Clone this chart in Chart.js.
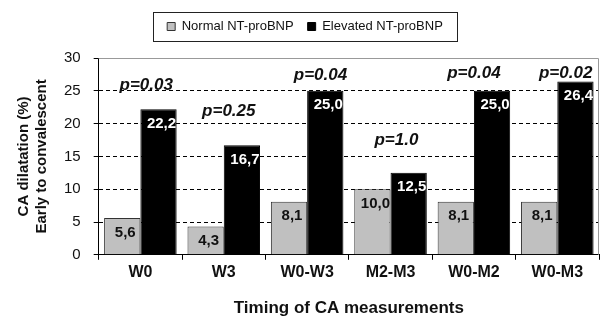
<!DOCTYPE html>
<html>
<head>
<meta charset="utf-8">
<script src="https://cdn.jsdelivr.net/npm/chart.js@4"></script>
<style>
  html, body { margin: 0; padding: 0; background: #fff; }
  #wrap { width: 605px; height: 317px; }
</style>
</head>
<body>
<div id="wrap"><canvas id="chart" width="605" height="317"></canvas></div>
<script>
const categories = ['W0', 'W3', 'W0-W3', 'M2-M3', 'W0-M2', 'W0-M3'];
const normalValues = [5.6, 4.3, 8.1, 10.0, 8.1, 8.1];
const elevatedValues = [22.2, 16.7, 25.0, 12.5, 25.0, 26.4];
const pLabels = ['p=0.03', 'p=0.25', 'p=0.04', 'p=1.0', 'p=0.04', 'p=0.02'];
// where each p label sits: value level and shift along the category axis
const pLevels = [25.9, 21.9, 27.4, 17.4, 27.7, 27.7];
const pShift = [0.07, 0.06, 0.16, 0.07, 0, 0.1];
const yTicks = [0, 5, 10, 15, 20, 25, 30];

const FONT = '"Liberation Sans", Arial, sans-serif';

// extra room below the legend
const legendMargin = {
    id: 'legendMargin',
    beforeInit(chart) {
        if (!chart.legend) return;
        const fit = chart.legend.fit;
        chart.legend.fit = function () {
            fit.call(this);
            this.height += 15;
        };
    }
};

const frameAndLabels = {
    id: 'frameAndLabels',
    afterDraw(chart) {
        const ctx = chart.ctx;
        const area = chart.chartArea;
        const x = chart.scales.x;
        const y = chart.scales.y;
        ctx.save();
        // grey frame on top and right of the plot
        ctx.strokeStyle = '#999';
        ctx.lineWidth = 1;
        ctx.beginPath();
        ctx.moveTo(area.left, area.top + 0.5);
        ctx.lineTo(area.right - 0.5, area.top + 0.5);
        ctx.lineTo(area.right - 0.5, area.bottom);
        ctx.stroke();

        // value labels inside the bars
        ctx.font = 'bold 15px ' + FONT;
        ctx.textAlign = 'center';
        ctx.textBaseline = 'top';
        chart.data.datasets.forEach((ds, i) => {
            const meta = chart.getDatasetMeta(i);
            meta.data.forEach((bar, j) => {
                ctx.fillStyle = i === 0 ? '#111' : '#fff';
                ctx.fillText(ds.data[j].toFixed(1).replace('.', ','), bar.x + 3, bar.y + 7);
            });
        });

        // p-values above each pair
        ctx.font = 'bold italic 17px ' + FONT;
        ctx.fillStyle = '#111';
        ctx.textBaseline = 'middle';
        pLabels.forEach((p, j) => {
            ctx.fillText(p, x.getPixelForValue(j + pShift[j]), y.getPixelForValue(pLevels[j]));
        });

        // box around the legend
        const boxes = chart.legend.legendHitBoxes;
        if (boxes && boxes.length) {
            const l = Math.min(...boxes.map(b => b.left)) - 14;
            const r = Math.max(...boxes.map(b => b.left + b.width)) + 14;
            const t = boxes[0].top - 8;
            const h = boxes[0].height + 16;
            ctx.strokeStyle = '#222';
            ctx.strokeRect(Math.round(l) + 0.5, Math.round(t) + 0.5, Math.round(r - l), Math.round(h));
        }
        ctx.restore();
    }
};

new Chart(document.getElementById('chart'), {
    type: 'bar',
    data: {
        labels: categories,
        datasets: [
            { label: 'Normal NT-proBNP', data: normalValues, backgroundColor: '#c0c0c0', borderColor: '#333', borderWidth: 1 },
            { label: 'Elevated NT-proBNP', data: elevatedValues, backgroundColor: '#000', borderColor: '#000', borderWidth: 1 }
        ]
    },
    options: {
        responsive: false,
        animation: false,
        layout: { padding: { top: 6, right: 6, left: 11, bottom: 0 } },
        plugins: {
            tooltip: { enabled: false },
            legend: {
                position: 'top',
                labels: {
                    font: { family: FONT, size: 13 },
                    color: '#111',
                    boxWidth: 8,
                    boxHeight: 8,
                    padding: 14
                }
            }
        },
        datasets: { bar: { categoryPercentage: 0.87, barPercentage: 1.0 } },
        scales: {
            x: {
                grid: { drawOnChartArea: false, drawTicks: true, tickLength: 5, tickColor: '#000', offset: true },
                border: { color: '#000', width: 1 },
                ticks: { font: { family: FONT, size: 16, weight: 'bold' }, color: '#111', padding: 3 },
                title: { display: true, text: 'Timing of CA measurements', font: { family: FONT, size: 17, weight: 'bold', lineHeight: 1 }, color: '#111', padding: { top: 15, bottom: 0 } }
            },
            y: {
                min: 0,
                max: 30,
                ticks: { stepSize: 5, font: { family: FONT, size: 15 }, color: '#111', padding: 13 },
                grid: {
                    color: yTicks.map(v => (v > 0 && v < 30) ? '#000' : 'rgba(0,0,0,0)'),
                    lineWidth: 1,
                    tickColor: '#000',
                    tickLength: 5,
                    tickBorderDash: []
                },
                border: { color: '#000', width: 1, dash: [4, 3] },
                title: { display: true, text: ['CA dilatation (%)', 'Early to convalescent'], font: { family: FONT, size: 15, weight: 'bold' }, color: '#111', padding: { bottom: 0 } }
            }
        }
    },
    plugins: [legendMargin, frameAndLabels]
});
</script>
</body>
</html>
